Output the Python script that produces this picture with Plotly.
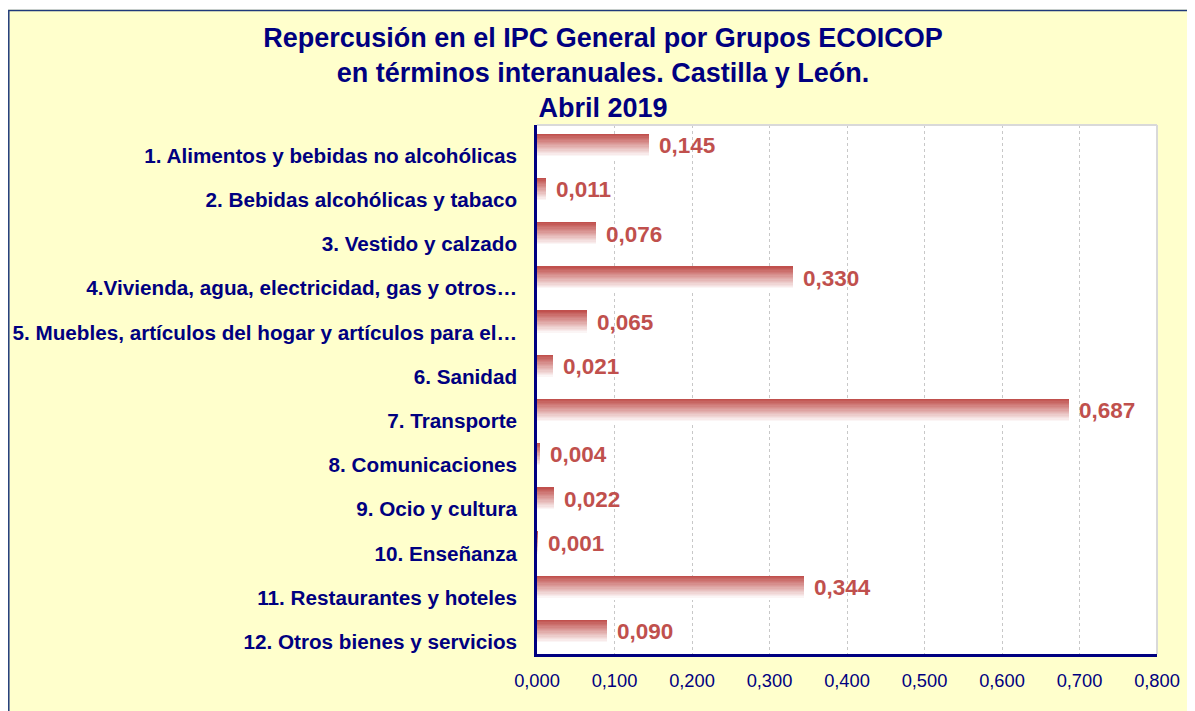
import plotly.graph_objects as go

categories = [
    "1. Alimentos y bebidas no alcohólicas",
    "2. Bebidas alcohólicas y tabaco",
    "3. Vestido y calzado",
    "4.Vivienda, agua, electricidad, gas y otros…",
    "5. Muebles, artículos del hogar y artículos para el…",
    "6. Sanidad",
    "7. Transporte",
    "8. Comunicaciones",
    "9. Ocio y cultura",
    "10. Enseñanza",
    "11. Restaurantes y hoteles",
    "12. Otros bienes y servicios",
]
values = [0.145, 0.011, 0.076, 0.330, 0.065, 0.021, 0.687, 0.004, 0.022, 0.001, 0.344, 0.090]
x_ticks = [0.0, 0.1, 0.2, 0.3, 0.4, 0.5, 0.6, 0.7, 0.8]

NAVY = "#000080"
RED = (192, 80, 77)
YELLOW = "#FFFFCC"
FONT = "Liberation Sans, Arial"

# the page body adds an 8px margin; the figure fills the rest of the window
OFF = 8
W, H = 1195 - OFF, 711 - OFF
L, R, T, B = 537 - OFF, 38, 125 - OFF, 57
pw, ph = W - L - R, H - T - B

def px_x(p):  # window pixel -> paper x
    return (p - OFF - L) / pw

def px_y(p):  # window pixel -> paper y
    return (H - B - (p - OFF)) / ph

fig = go.Figure()

# gradient bars built from horizontal slices (red at top, fading to white)
N = 18
bar_w = 0.53
center_off = -0.22
for k in range(N):
    t = k / (N - 1)
    c = tuple(int(round(RED[i] + (255 - RED[i]) * t)) for i in range(3))
    fig.add_trace(go.Bar(
        x=values, y=categories, orientation="h",
        offset=center_off - bar_w / 2 + k * bar_w / N,
        width=bar_w / N + 0.004,
        marker=dict(color="rgb(%d,%d,%d)" % c, line=dict(width=0)),
        showlegend=False, hoverinfo="skip",
    ))

# data labels
for cat, v in zip(categories, values):
    fig.add_annotation(
        x=v, y=cat, xref="x", yref="y", xanchor="left", yanchor="middle",
        xshift=8, yshift=10, showarrow=False,
        text=("%.3f" % v).replace(".", ","),
        font=dict(family=FONT, size=22.5, color="#C0504D", weight="bold"),
    )

shapes = [
    # white strip above the outer frame
    dict(type="rect", xref="paper", yref="paper", x0=px_x(-20), x1=px_x(1300),
         y0=px_y(9.5), y1=px_y(-20), fillcolor="white", line=dict(width=0), layer="below"),
    # outer frame
    dict(type="rect", xref="paper", yref="paper", x0=px_x(8.8), x1=px_x(1300),
         y0=px_y(800), y1=px_y(10.5), line=dict(color="#1F3A7A", width=1.5), layer="above"),
    # light top and right borders of the plot area
    dict(type="line", xref="paper", yref="paper", x0=0, x1=1, y0=1, y1=1,
         line=dict(color="#D9D9D9", width=2), layer="above"),
    dict(type="line", xref="paper", yref="paper", x0=1, x1=1, y0=0, y1=1,
         line=dict(color="#D9D9D9", width=2), layer="above"),
]

fig.update_layout(
    width=W, height=H,
    margin=dict(l=L, r=R, t=T, b=B, autoexpand=False),
    paper_bgcolor=YELLOW, plot_bgcolor="white",
    barmode="overlay", bargap=0,
    separators=",.",
    font=dict(family=FONT, color=NAVY),
    title=dict(
        text="Repercusión en el IPC General por Grupos ECOICOP<br>en términos interanuales. Castilla y León.<br>Abril 2019",
        x=(603 - OFF) / W, xanchor="center", xref="container",
        y=1 - 39 / H, yanchor="top", yref="container",
        font=dict(family=FONT, size=27, color=NAVY, weight="bold"),
    ),
    shapes=shapes,
    xaxis=dict(
        range=[0, 0.8], tickvals=x_ticks, tickformat=".3f",
        showgrid=True, gridcolor="#C8C8C8", griddash="dot", gridwidth=1,
        zeroline=False, showline=True, linecolor=NAVY, linewidth=2.5,
        ticks="", ticklabelstandoff=8,
        tickfont=dict(family=FONT, size=18.3, color=NAVY),
    ),
    yaxis=dict(
        type="category", categoryarray=categories, categoryorder="array",
        range=[11.279, -0.695], autorange=False,
        showgrid=False, zeroline=False, showline=True, linecolor=NAVY, linewidth=2.5,
        ticks="", ticklabelstandoff=13,
        tickfont=dict(family=FONT, size=20.7, color=NAVY, weight="bold"),
    ),
)

fig.write_html("out.html")
